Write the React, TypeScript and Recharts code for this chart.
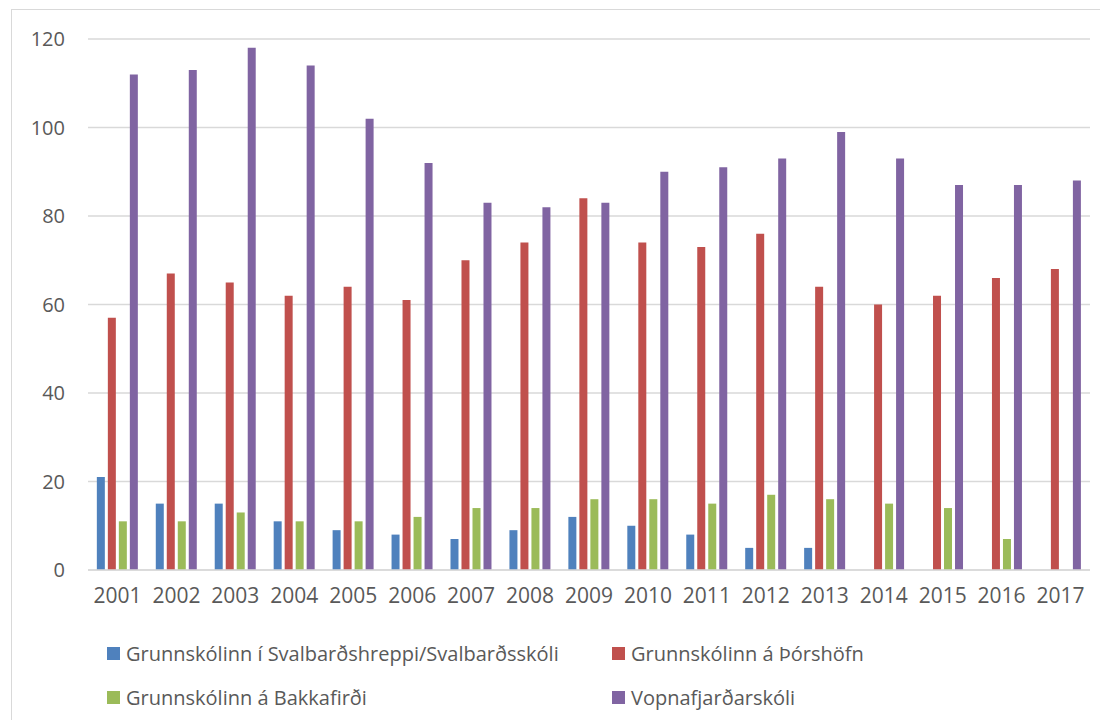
import { Bar, BarChart, CartesianGrid, Legend, XAxis, YAxis } from "recharts";

const YEARS = [
  "2001", "2002", "2003", "2004", "2005", "2006", "2007", "2008", "2009",
  "2010", "2011", "2012", "2013", "2014", "2015", "2016", "2017",
];

const SVALBARD = [21, 15, 15, 11, 9, 8, 7, 9, 12, 10, 8, 5, 5, 0, 0, 0, 0];
const THORSHOFN = [57, 67, 65, 62, 64, 61, 70, 74, 84, 74, 73, 76, 64, 60, 62, 66, 68];
const BAKKAFJORDUR = [11, 11, 13, 11, 11, 12, 14, 14, 16, 16, 15, 17, 16, 15, 14, 7, 0];
const VOPNAFJORDUR = [112, 113, 118, 114, 102, 92, 83, 82, 83, 90, 91, 93, 99, 93, 87, 87, 88];

const Y_TICKS = [0, 20, 40, 60, 80, 100, 120];

const SERIES = [
  { key: "svalbard", name: "Grunnskólinn í Svalbarðshreppi/Svalbarðsskóli", color: "#4F81BD" },
  { key: "thorshofn", name: "Grunnskólinn á Þórshöfn", color: "#C0504D" },
  { key: "bakkafjordur", name: "Grunnskólinn á Bakkafirði", color: "#9BBB59" },
  { key: "vopnafjordur", name: "Vopnafjarðarskóli", color: "#8064A2" },
];

const DATA = YEARS.map((year, i) => ({
  year,
  svalbard: SVALBARD[i],
  thorshofn: THORSHOFN[i],
  bakkafjordur: BAKKAFJORDUR[i],
  vopnafjordur: VOPNAFJORDUR[i],
}));

const TEXT = "#595959";
const GRID = "#D9D9D9";
const FONT = "'Open Sans', sans-serif";

function LegendBox() {
  return (
    <div style={{ position: "relative", width: 1100, height: 90, fontFamily: FONT }}>
      {SERIES.map((s, i) => {
        const col = i % 2;
        const row = Math.floor(i / 2);
        return (
          <div
            key={s.key}
            style={{
              position: "absolute",
              left: col === 0 ? 99 : 604,
              top: row === 0 ? 37 : 81,
              display: "flex",
              alignItems: "center",
              height: 13,
              whiteSpace: "nowrap",
            }}
          >
            <span style={{ width: 13, height: 13, background: s.color, display: "inline-block" }} />
            <span style={{ marginLeft: 6, fontSize: 20, color: TEXT, lineHeight: "13px" }}>{s.name}</span>
          </div>
        );
      })}
    </div>
  );
}

export default function App() {
  return (
    <div style={{ position: "relative", width: 1100, height: 712, overflow: "hidden", background: "#fff" }}>
      <div
        style={{
          position: "absolute",
          left: 3,
          top: 1,
          width: 1200,
          height: 800,
          border: `1px solid ${GRID}`,
          boxSizing: "border-box",
        }}
      />
      <div style={{ position: "absolute", left: 0, top: 0 }}>
        <BarChart
          width={1100}
          height={712}
          data={DATA}
          barCategoryGap="15%"
          barGap={3}
          margin={{ top: 31, right: 18, left: 0, bottom: 20 }}
        >
          <CartesianGrid vertical={false} stroke={GRID} strokeWidth={1.5} />
          <XAxis
            dataKey="year"
            height={40}
            axisLine={{ stroke: GRID, strokeWidth: 1.5 }}
            tickLine={false}
            tickMargin={12}
            tick={{ fontSize: 21, fill: TEXT, fontFamily: FONT }}
            interval={0}
          />
          <YAxis
            width={80}
            domain={[0, 120]}
            ticks={Y_TICKS}
            axisLine={false}
            tickLine={false}
            tickMargin={17}
            tick={{ fontSize: 20, fill: TEXT, fontFamily: FONT }}
          />
          <Legend
            verticalAlign="bottom"
            content={() => <LegendBox />}
            wrapperStyle={{ left: 0, top: 602, width: 1100, height: 90 }}
          />
          {SERIES.map((s) => (
            <Bar key={s.key} dataKey={s.key} name={s.name} fill={s.color} isAnimationActive={false} />
          ))}
        </BarChart>
      </div>
    </div>
  );
}
